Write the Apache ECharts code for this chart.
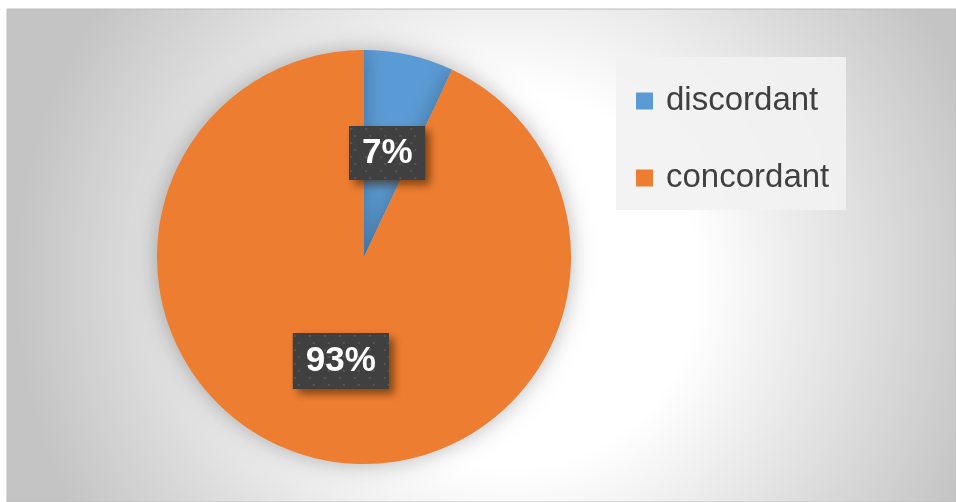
<!DOCTYPE html>
<html>
<head>
<meta charset="utf-8">
<script src="https://cdn.jsdelivr.net/npm/echarts@6/dist/echarts.min.js"></script>
<style>
  html, body { margin: 0; padding: 0; background: #ffffff; }
  #main { width: 956px; height: 502px; }
</style>
</head>
<body>
<div id="main"></div>
<script>
var categories = ['discordant', 'concordant'];
var values = [7, 93];
var colors = ['#5B9BD5', '#ED7D31'];
var labelBoxes = [[76, 54], [96, 56]];

// dotted dark background for the data labels
function dotPattern(w, h) {
  var c = document.createElement('canvas');
  c.width = w; c.height = h;
  var ctx = c.getContext('2d');
  ctx.fillStyle = '#404040';
  ctx.fillRect(0, 0, w, h);
  ctx.fillStyle = '#575757';
  for (var y = 2, row = 0; y < h; y += 7, row++) {
    for (var x = (row % 2 ? 5 : 1); x < w; x += 15) {
      ctx.fillRect(x, y, 2, 2);
    }
  }
  return c;
}

var dom = document.getElementById('main');
var myChart = echarts.init(dom, null, { renderer: 'canvas' });

var pieData = categories.map(function (name, i) {
  return {
    name: name,
    value: values[i],
    itemStyle: { color: colors[i] },
    label: {
      rich: {
        p: {
          width: labelBoxes[i][0],
          height: labelBoxes[i][1],
          lineHeight: labelBoxes[i][1],
          align: 'center',
          fontFamily: 'Liberation Sans, Arial, sans-serif',
          fontWeight: 'bold',
          fontSize: 35,
          color: '#ffffff',
          backgroundColor: { image: dotPattern(labelBoxes[i][0], labelBoxes[i][1]) }
        }
      }
    }
  };
});

var option = {
  animation: false,
  graphic: [
    {
      type: 'rect',
      silent: true,
      z: -10,
      shape: { x: 7, y: 9, width: 949, height: 493 },
      style: {
        fill: {
          type: 'radial', x: 0.53, y: 0.55, r: 1.0,
          colorStops: [
            { offset: 0, color: '#ffffff' },
            { offset: 0.38, color: '#ffffff' },
            { offset: 1, color: '#c4c4c4' }
          ]
        },
        stroke: '#bcbcbc',
        lineWidth: 1
      }
    },
    {
      type: 'rect',
      silent: true,
      z: -5,
      shape: { x: 616, y: 57, width: 230, height: 153 },
      style: { fill: 'rgba(242,242,242,0.9)' }
    }
  ],
  legend: {
    orient: 'vertical',
    left: 631,
    top: 76,
    itemWidth: 17,
    itemHeight: 17,
    itemGap: 37,
    icon: 'rect',
    data: categories,
    textStyle: {
      fontFamily: 'Liberation Sans, Arial, sans-serif',
      fontSize: 33,
      lineHeight: 40,
      color: '#404040',
      padding: [0, 0, 0, 8]
    }
  },
  series: [
    {
      type: 'pie',
      center: [364, 257],
      radius: 207,
      startAngle: 90,
      clockwise: true,
      itemStyle: {
        shadowBlur: 22,
        shadowColor: 'rgba(0,0,0,0.28)'
      },
      label: {
        show: true,
        position: 'inside',
        formatter: function (p) { return '{p|' + p.value + '%}'; },
        backgroundColor: '#404040',
        padding: 0,
        shadowColor: 'rgba(60,30,0,0.6)',
        shadowBlur: 8,
        shadowOffsetX: 5,
        shadowOffsetY: 5
      },
      labelLine: { show: false },
      data: pieData
    }
  ]
};

myChart.setOption(option);
window.addEventListener('resize', myChart.resize);
</script>
</body>
</html>
